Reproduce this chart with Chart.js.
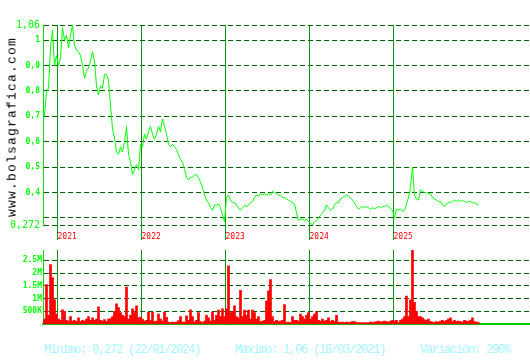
<!DOCTYPE html>
<html>
<head>
<meta charset="utf-8">
<script src="https://cdn.jsdelivr.net/npm/chart.js@4/dist/chart.umd.min.js"></script>
<style>
  body { margin: 0; width: 530px; height: 360px; background: #fff; position: relative; overflow: hidden; }
  canvas { position: absolute; left: 0; }
  #price-chart { top: 0; }
  #volume-chart { top: 240px; }
  .site {
    position: absolute; left: 12px; top: 127px;
    transform: translate(-50%, -50%) rotate(-90deg);
    font: 13px "Liberation Mono", monospace; letter-spacing: 1.2px; color: #000; white-space: nowrap;
  }
  .footer {
    position: absolute; top: 343px;
    font: 12px "Liberation Mono", monospace; letter-spacing: -1.2px;
    color: #a6f4ff; white-space: nowrap;
  }
</style>
</head>
<body>
<canvas id="price-chart" width="530" height="245"></canvas>
<canvas id="volume-chart" width="530" height="90"></canvas>
<div class="site">www.bolsagrafica.com</div>
<div class="footer" style="left:44px">Minimo: 0,272 (22/01/2024)</div>
<div class="footer" style="left:235px">Maximo: 1,06 (18/03/2021)</div>
<div class="footer" style="left:420px">Variación: 290%</div>
<script>
// sampling: one value every 1/42 year (~9 days), first one in early November 2020
const firstDate = 2020.845;
const stepYears = 1 / 42;

const prices = [
  0.70, 0.80, 0.81, 0.97, 1.04, 0.90, 0.94, 0.90, 0.93, 1.05,
  1.00, 1.02, 0.97, 1.02, 1.06, 0.98, 0.96, 0.955, 0.94, 0.90,
  0.85, 0.88, 0.89, 0.92, 0.955, 0.92, 0.82, 0.785, 0.82, 0.81,
  0.865, 0.865, 0.84, 0.745, 0.65, 0.615, 0.56, 0.55, 0.58, 0.56,
  0.60, 0.66, 0.55, 0.52, 0.47, 0.49, 0.51, 0.49, 0.59, 0.58,
  0.63, 0.61, 0.64, 0.66, 0.63, 0.61, 0.63, 0.66, 0.64, 0.69,
  0.66, 0.63, 0.59, 0.58, 0.59, 0.58, 0.57, 0.55, 0.53, 0.52,
  0.49, 0.46, 0.45, 0.46, 0.46, 0.47, 0.47, 0.46, 0.44, 0.42,
  0.39, 0.37, 0.36, 0.34, 0.33, 0.35, 0.35, 0.355, 0.34, 0.31,
  0.285, 0.38, 0.39, 0.37, 0.36, 0.36, 0.35, 0.34, 0.33, 0.34,
  0.35, 0.345, 0.35, 0.36, 0.365, 0.38, 0.39, 0.385, 0.395, 0.39,
  0.395, 0.39, 0.395, 0.39, 0.405, 0.40, 0.395, 0.39, 0.39, 0.38,
  0.38, 0.375, 0.37, 0.365, 0.36, 0.355, 0.32, 0.29, 0.295, 0.295,
  0.29, 0.295, 0.285, 0.28, 0.272, 0.285, 0.29, 0.30, 0.31, 0.32,
  0.33, 0.35, 0.34, 0.33, 0.335, 0.35, 0.36, 0.36, 0.375, 0.38,
  0.385, 0.39, 0.385, 0.38, 0.37, 0.36, 0.345, 0.335, 0.34, 0.345,
  0.34, 0.345, 0.34, 0.335, 0.34, 0.335, 0.34, 0.345, 0.34, 0.345,
  0.345, 0.35, 0.345, 0.335, 0.33, 0.30, 0.335, 0.33, 0.335, 0.325,
  0.33, 0.355, 0.38, 0.42, 0.50, 0.39, 0.375, 0.37, 0.41, 0.405,
  0.40, 0.40, 0.395, 0.395, 0.38, 0.375, 0.37, 0.365, 0.365, 0.35,
  0.345, 0.355, 0.36, 0.36, 0.365, 0.37, 0.365, 0.37, 0.365, 0.37,
  0.365, 0.36, 0.365, 0.365, 0.36, 0.36, 0.355, 0.35,
];

// volume in millions of shares
const volumes = [
  0.2, 1.55, 0.35, 2.33, 1.82, 0.95, 0.4, 0.2, 0.15, 0.56,
  0.5, 0.15, 0.12, 0.3, 0.12, 0.15, 0.1, 0.25, 0.1, 0.15,
  0.12, 0.2, 0.3, 0.15, 0.25, 0.15, 0.2, 0.68, 0.15, 0.12,
  0.18, 0.1, 0.2, 0.22, 0.3, 0.5, 0.8, 0.65, 0.45, 0.35,
  0.3, 1.45, 0.2, 0.35, 0.6, 0.45, 0.72, 0.25, 0.28, 0.2,
  0.12, 0.15, 0.46, 0.14, 0.46, 0.1, 0.12, 0.4, 0.2, 0.12,
  0.46, 0.27, 0.08, 0.06, 0.08, 0.06, 0.08, 0.14, 0.3, 0.08,
  0.08, 0.33, 0.15, 0.56, 0.3, 0.08, 0.15, 0.45, 0.1, 0.06,
  0.12, 0.35, 0.25, 0.12, 0.47, 0.15, 0.35, 0.55, 0.3, 0.6,
  0.3, 0.6, 2.28, 0.45, 0.5, 0.72, 0.3, 0.25, 1.32, 0.3,
  0.55, 0.35, 0.55, 0.2, 0.55, 0.45, 0.2, 0.3, 0.1, 0.12,
  0.15, 0.9, 1.3, 1.74, 0.3, 0.1, 0.15, 0.1, 0.12, 0.15,
  0.77, 0.06, 0.08, 0.06, 0.3, 0.15, 0.15, 0.12, 0.4, 0.3,
  0.2, 0.35, 0.45, 0.2, 0.3, 0.4, 0.5, 0.15, 0.12, 0.2,
  0.12, 0.15, 0.25, 0.1, 0.15, 0.1, 0.35, 0.08, 0.06, 0.08,
  0.06, 0.08, 0.06, 0.08, 0.1, 0.1, 0.06, 0.06, 0.05, 0.06,
  0.05, 0.06, 0.05, 0.08, 0.06, 0.08, 0.1, 0.12, 0.08, 0.1,
  0.12, 0.1, 0.08, 0.12, 0.15, 0.12, 0.15, 0.06, 0.15, 0.2,
  0.3, 1.1, 0.3, 0.95, 2.9, 0.85, 0.5, 0.3, 0.3, 0.25,
  0.18, 0.15, 0.2, 0.1, 0.08, 0.06, 0.1, 0.08, 0.12, 0.15,
  0.1, 0.15, 0.2, 0.25, 0.1, 0.15, 0.1, 0.12, 0.1, 0.08,
  0.15, 0.12, 0.1, 0.15, 0.25, 0.1, 0.08, 0.06,
];

const years = [2021, 2022, 2023, 2024, 2025];
const priceTicks = [0.272, 0.3, 0.4, 0.5, 0.6, 0.7, 0.8, 0.9, 1, 1.06];
const priceTickLabels = ["0,272", "", "0,4", "0,5", "0,6", "0,7", "0,8", "0,9", "1", "1,06"];
const volumeTicks = [0.5, 1, 1.5, 2, 2.5];
const volumeTickLabels = ["500K", "1M", "1.5M", "2M", "2.5M"];

const xMin = 2020.827;
const xMax = 2026.625;
const mono = '"DejaVu Sans Mono", monospace';
const yearLineColor = "#009a00";

function setTicks(values) {
  return (scale) => {
    scale.ticks = values.map((v) => ({ value: v }));
  };
}

const yearAxis = (extra) => ({
  type: "linear",
  min: xMin,
  max: xMax,
  offset: false,
  afterBuildTicks: setTicks(years),
  ...extra,
});

new Chart(document.getElementById("price-chart"), {
  type: "line",
  data: {
    datasets: [
      {
        data: prices.map((p, i) => ({ x: firstDate + i * stepYears, y: p })),
        borderColor: "#00ff00",
        borderWidth: 1,
        pointRadius: 0,
        tension: 0,
      },
    ],
  },
  options: {
    responsive: false,
    animation: false,
    events: [],
    layout: { padding: { top: 25, left: 0, right: 0, bottom: 0 } },
    plugins: { legend: { display: false }, tooltip: { enabled: false } },
    scales: {
      x: yearAxis({
        afterFit: (scale) => { scale.height = 20; },
        grid: { color: yearLineColor, lineWidth: 1, tickLength: 15, drawOnChartArea: true },
        border: { display: false },
        ticks: {
          autoSkip: false,
          maxRotation: 0,
          align: "start",
          padding: -8,
          color: "#ff0000",
          font: { family: mono, size: 8 },
          callback: (value) => String(value),
        },
      }),
      y: {
        min: 0.272,
        max: 1.06,
        afterBuildTicks: setTicks(priceTicks),
        afterFit: (scale) => { scale.width = 43; },
        grid: { color: "#006400", drawTicks: false },
        border: { display: true, color: "#00dd00", width: 1, dash: [5, 3] },
        ticks: {
          autoSkip: false,
          padding: 3,
          color: "#00ff00",
          font: (ctx) =>
            ctx.index === 0 || ctx.index === priceTicks.length - 1
              ? { family: mono, size: 10 }
              : { family: mono, size: 8, weight: "bold" },
          callback: (value, index) => priceTickLabels[index],
        },
      },
    },
  },
});

new Chart(document.getElementById("volume-chart"), {
  type: "bar",
  data: {
    datasets: [
      {
        data: volumes.map((v, i) => ({ x: firstDate + i * stepYears, y: v })),
        backgroundColor: "#ff0000",
        borderWidth: 0,
        barPercentage: 1,
        categoryPercentage: 1,
      },
    ],
  },
  options: {
    responsive: false,
    animation: false,
    events: [],
    layout: { padding: { top: 10, left: 0, right: 0, bottom: 0 } },
    plugins: { legend: { display: false }, tooltip: { enabled: false } },
    scales: {
      x: yearAxis({
        afterFit: (scale) => { scale.height = 4; },
        grid: { color: yearLineColor, lineWidth: 1, drawTicks: false, offset: false },
        border: { display: true, color: "#00cc00", width: 2 },
        ticks: { display: false },
      }),
      y: {
        min: 0,
        max: 2.9,
        afterBuildTicks: setTicks(volumeTicks),
        afterFit: (scale) => { scale.width = 43; },
        grid: { color: "#006400", drawTicks: false },
        border: { display: true, color: "#00dd00", width: 1, dash: [5, 3] },
        ticks: {
          autoSkip: false,
          padding: 1,
          color: "#00ff00",
          font: { family: mono, size: 8, weight: "bold" },
          callback: (value, index) => volumeTickLabels[index],
        },
      },
    },
  },
});
</script>
</body>
</html>
